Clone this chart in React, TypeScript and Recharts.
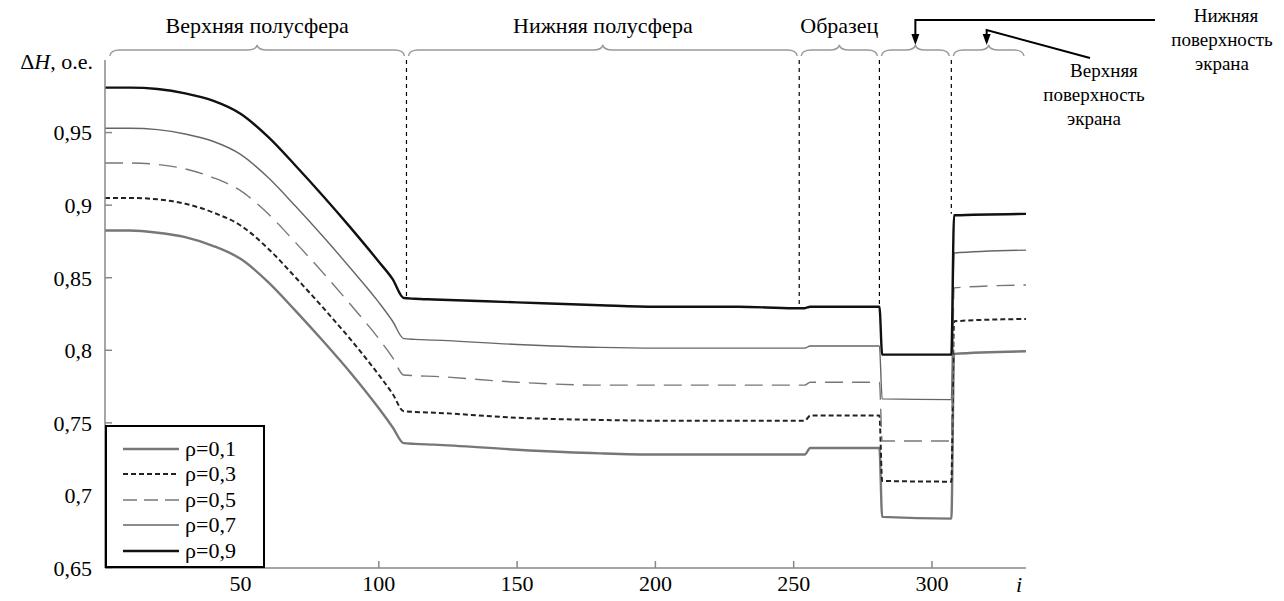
import React from 'react';
import { LineChart, Line, XAxis, YAxis, ReferenceLine } from 'recharts';

// sample index along the scan
const idx = [1, 10, 20, 30, 40, 50, 60, 70, 80, 90, 100, 105, 109, 113, 120, 150, 180, 200, 230, 250, 254, 256, 281, 282, 307, 308, 334];

const rho01 = [0.8825, 0.8825, 0.881, 0.878, 0.872, 0.863, 0.847, 0.827, 0.806, 0.784, 0.76, 0.747, 0.736, 0.7355, 0.735, 0.7315, 0.729, 0.7282, 0.7282, 0.7282, 0.7282, 0.7327, 0.7327, 0.6852, 0.684, 0.7975, 0.7993];
const rho03 = [0.905, 0.905, 0.904, 0.901, 0.895, 0.886, 0.87, 0.85, 0.829, 0.807, 0.783, 0.77, 0.758, 0.7575, 0.757, 0.7535, 0.752, 0.7515, 0.7515, 0.7515, 0.7515, 0.755, 0.755, 0.71, 0.7095, 0.82, 0.8216];
const rho05 = [0.929, 0.929, 0.928, 0.925, 0.919, 0.91, 0.894, 0.874, 0.853, 0.831, 0.808, 0.795, 0.783, 0.7825, 0.782, 0.778, 0.776, 0.776, 0.776, 0.776, 0.776, 0.778, 0.778, 0.7375, 0.7375, 0.843, 0.845];
const rho07 = [0.953, 0.953, 0.952, 0.949, 0.944, 0.935, 0.919, 0.899, 0.878, 0.856, 0.833, 0.82, 0.808, 0.8075, 0.807, 0.804, 0.802, 0.8015, 0.8015, 0.8015, 0.8015, 0.803, 0.803, 0.7665, 0.766, 0.867, 0.869];
const rho09 = [0.981, 0.981, 0.98, 0.977, 0.972, 0.963, 0.947, 0.927, 0.906, 0.884, 0.861, 0.849, 0.836, 0.8355, 0.835, 0.833, 0.831, 0.83, 0.83, 0.829, 0.829, 0.83, 0.83, 0.797, 0.797, 0.893, 0.894];

const xTicks = [50, 100, 150, 200, 250, 300];
const yTicks = [0.65, 0.7, 0.75, 0.8, 0.85, 0.9, 0.95];

// region boundaries (dashed lines) and where they stop
const dividers = [110, 252, 281, 307];
const dividerEnds = [0.836, 0.829, 0.83, 0.894];

// braces above the plot
const regions: [number, number, string][] = [
  [2, 110, 'Верхняя полусфера'],
  [110, 252, 'Нижняя полусфера'],
  [252, 281, 'Образец'],
  [281, 307, ''],
  [307, 334, ''],
];

const data = idx.map((i, k) => ({
  i,
  r1: rho01[k],
  r3: rho03[k],
  r5: rho05[k],
  r7: rho07[k],
  r9: rho09[k],
}));

const series = [
  { key: 'r1', name: 'ρ=0,1', color: '#777', width: 2.4, dash: undefined },
  { key: 'r3', name: 'ρ=0,3', color: '#222', width: 2, dash: '5 3' },
  { key: 'r5', name: 'ρ=0,5', color: '#777', width: 1.4, dash: '18 9' },
  { key: 'r7', name: 'ρ=0,7', color: '#666', width: 1.4, dash: undefined },
  { key: 'r9', name: 'ρ=0,9', color: '#111', width: 2.4, dash: undefined },
];

const FONT = '"Liberation Serif", "Times New Roman", Times, "Noto Serif", "DejaVu Serif", serif';
const AXIS = '#888';

const fmt = (v: number) => String(v).replace('.', ',');

const Arrow = ({ x, y }: { x: number; y: number }) => (
  <polygon points={`${x},${y} ${x - 4},${y - 11} ${x + 4},${y - 11}`} fill="#000" />
);

const Brace = (props: any) => {
  const { x1, x2, y1, text, idx: n } = props;
  const m = (x1 + x2) / 2;
  const top = y1 - 10;
  const d = `M${x1 + 2},${y1 - 4} Q${x1 + 3},${top} ${x1 + 12},${top} L${m - 10},${top} Q${m - 1},${top} ${m},${top - 5} Q${m + 1},${top} ${m + 10},${top} L${x2 - 12},${top} Q${x2 - 3},${top} ${x2 - 2},${y1 - 4}`;
  return (
    <g>
      <path d={d} fill="none" stroke="#999" strokeWidth={1.4} />
      {text && (
        <text x={m} y={33} textAnchor="middle" fontFamily={FONT} fontSize={22} fill="#000">
          {text}
        </text>
      )}
      {n === 3 && (
        <g>
          <polyline points={`${m},${top - 16} ${m},20 1155,20`} fill="none" stroke="#000" strokeWidth={2} />
          <Arrow x={m} y={top - 5} />
          <text x={1226} y={22} textAnchor="middle" fontFamily={FONT} fontSize={19}>Нижняя</text>
          <text x={1222} y={46} textAnchor="middle" fontFamily={FONT} fontSize={19}>поверхность</text>
          <text x={1222} y={70} textAnchor="middle" fontFamily={FONT} fontSize={19}>экрана</text>
        </g>
      )}
      {n === 4 && (
        <g>
          <polyline points={`${m - 2},${top - 16} ${m - 2},30 1090,58`} fill="none" stroke="#000" strokeWidth={2} />
          <Arrow x={m - 2} y={top - 5} />
          <text x={1104} y={77} textAnchor="middle" fontFamily={FONT} fontSize={19}>Верхняя</text>
          <text x={1094} y={101} textAnchor="middle" fontFamily={FONT} fontSize={19}>поверхность</text>
          <text x={1094} y={125} textAnchor="middle" fontFamily={FONT} fontSize={19}>экрана</text>
        </g>
      )}
    </g>
  );
};

const ChartLegend = () => (
  <div
    style={{
      position: 'absolute',
      left: 105,
      top: 425,
      width: 160,
      height: 143,
      border: '2px solid #000',
      background: '#fff',
      fontFamily: FONT,
      fontSize: 22,
      boxSizing: 'border-box',
      paddingTop: 9,
    }}
  >
    {series.map((s) => (
      <div key={s.key} style={{ display: 'flex', alignItems: 'center', height: 25.5 }}>
        <svg width={78} height={20}>
          <line x1={16} y1={10} x2={72} y2={10} stroke={s.color} strokeWidth={s.width} strokeDasharray={s.dash === '18 9' ? '14 7' : s.dash} />
        </svg>
        <span style={{ lineHeight: '22px' }}>{s.name}</span>
      </div>
    ))}
  </div>
);

export default function App() {
  return (
    <div style={{ position: 'absolute', left: 0, top: 0, width: 1284, height: 601, background: '#fff' }}>
      <LineChart width={1284} height={601} data={data} margin={{ top: 60, right: 258, bottom: 0, left: 0 }}>
        <XAxis
          type="number"
          dataKey="i"
          domain={[1, 334]}
          ticks={xTicks}
          height={33}
          axisLine={{ stroke: AXIS, strokeWidth: 1.5 }}
          tickLine={{ stroke: AXIS, strokeWidth: 1.5 }}
          tickSize={-7}
          tickMargin={14}
          tick={{ fontFamily: FONT, fontSize: 22, fill: '#000' }}
        />
        <XAxis
          xAxisId="t"
          orientation="top"
          type="number"
          dataKey="i"
          domain={[1, 334]}
          ticks={xTicks}
          height={0}
          axisLine={{ stroke: AXIS, strokeWidth: 1.5 }}
          tickLine={{ stroke: AXIS, strokeWidth: 1.5 }}
          tickSize={-7}
          tick={false}
        />
        <YAxis
          type="number"
          domain={[0.65, 1.0]}
          ticks={yTicks}
          width={105}
          axisLine={{ stroke: AXIS, strokeWidth: 1.5 }}
          tickLine={{ stroke: AXIS, strokeWidth: 1.5 }}
          tickSize={-7}
          tickMargin={20}
          tickFormatter={fmt}
          tick={{ fontFamily: FONT, fontSize: 22, fill: '#000' }}
        />
        <YAxis
          yAxisId="r"
          orientation="right"
          type="number"
          domain={[0.65, 1.0]}
          ticks={yTicks}
          width={0}
          axisLine={{ stroke: AXIS, strokeWidth: 1.5 }}
          tickLine={{ stroke: AXIS, strokeWidth: 1.5 }}
          tickSize={-7}
          tick={false}
        />
        {dividers.map((x, k) => (
          <ReferenceLine
            key={`d${x}`}
            segment={[{ x, y: 1.0 }, { x, y: dividerEnds[k] }]}
            stroke="#000"
            strokeWidth={1.2}
            strokeDasharray="4 4"
            ifOverflow="visible"
          />
        ))}
        {regions.map(([a, b, t], k) => (
          <ReferenceLine
            key={`b${k}`}
            segment={[{ x: a, y: 1.0 }, { x: b, y: 1.0 }]}
            ifOverflow="visible"
            shape={(p: any) => <Brace {...p} text={t} idx={k} />}
          />
        ))}
        {series.map((s) => (
          <Line
            key={s.key}
            dataKey={s.key}
            name={s.name}
            type="monotone"
            stroke={s.color}
            strokeWidth={s.width}
            strokeDasharray={s.dash}
            dot={false}
            isAnimationActive={false}
          />
        ))}
      </LineChart>
      <div style={{ position: 'absolute', right: 1284 - 93, top: 49, fontFamily: FONT, fontSize: 22, whiteSpace: 'nowrap' }}>
        Δ<i>H</i>, о.е.
      </div>
      <div style={{ position: 'absolute', left: 1016, top: 572, fontFamily: FONT, fontSize: 22, fontStyle: 'italic' }}>i</div>
      <ChartLegend />
    </div>
  );
}
